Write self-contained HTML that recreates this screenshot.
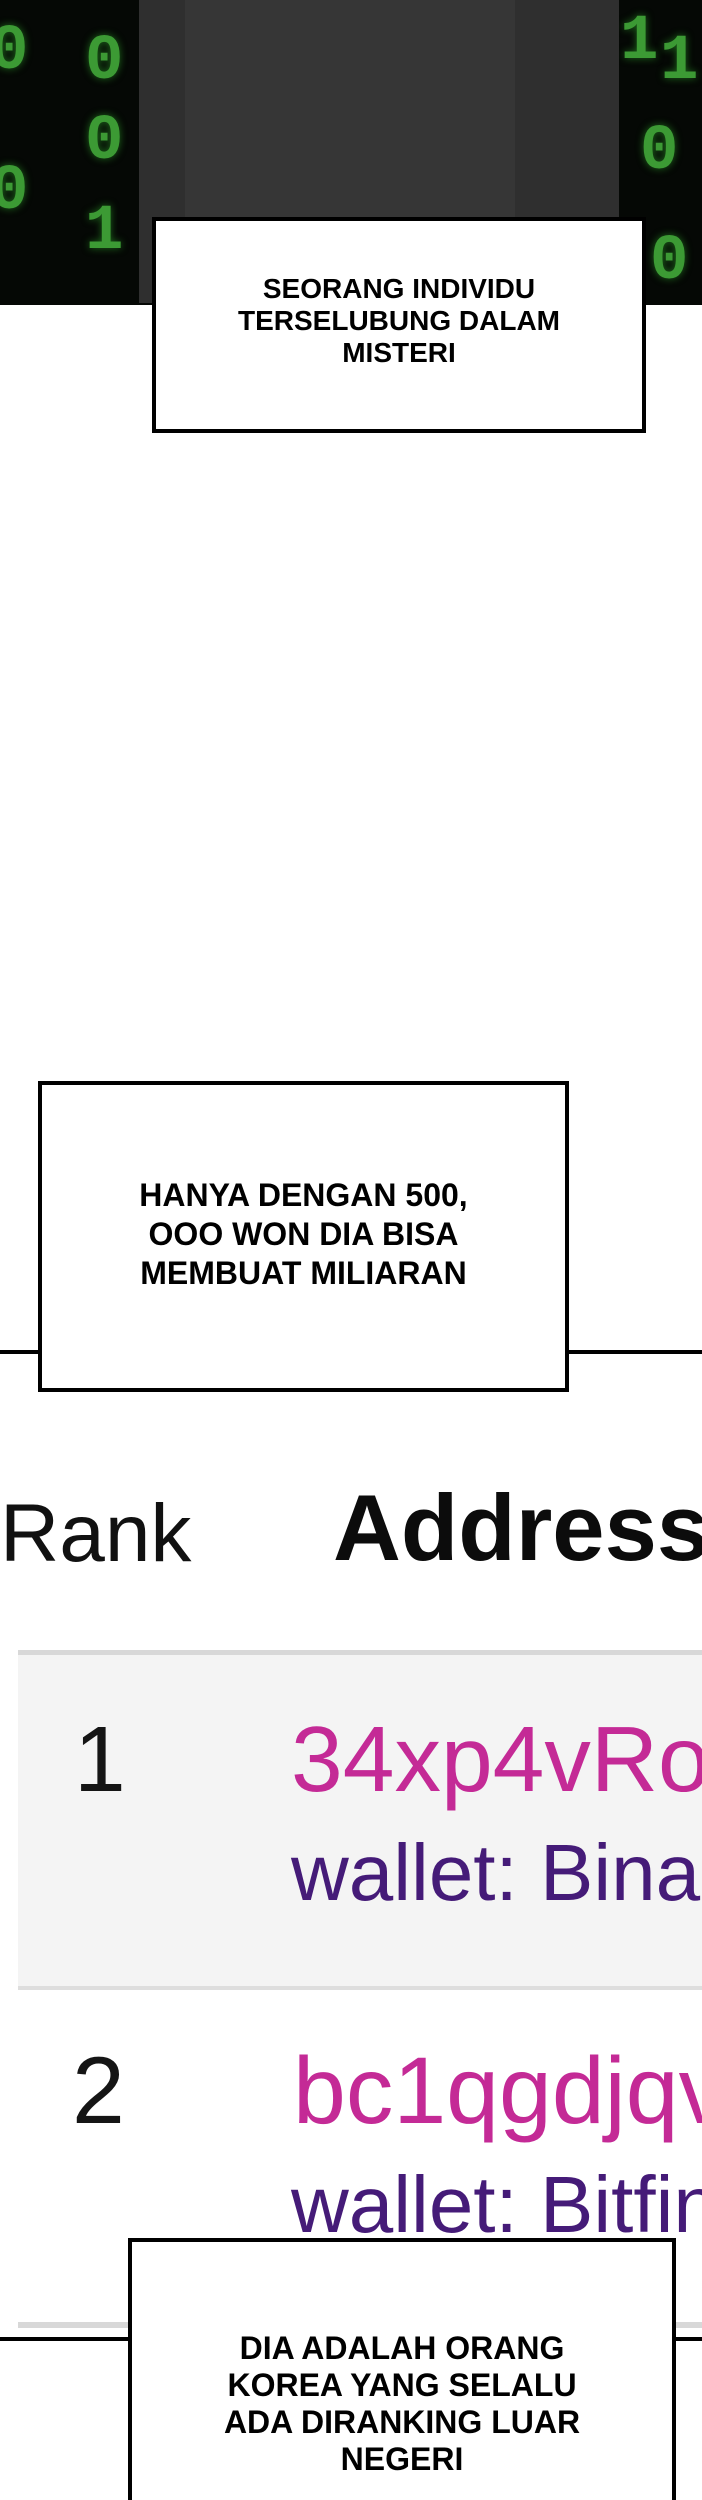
<!DOCTYPE html>
<html><head><meta charset="utf-8"><style>
*{margin:0;padding:0;box-sizing:border-box}
html,body{width:702px;height:2500px;overflow:hidden}
body{position:relative;background:#fff;font-family:"Liberation Sans",sans-serif}
#w{position:absolute;left:0;top:0;width:702px;height:2500px;overflow:hidden}
.a{position:absolute}
.box{position:absolute;background:#fff;border:4px solid #000}
.cap{position:absolute;text-align:center;font-family:"Liberation Sans",sans-serif;font-weight:bold;color:#000;white-space:nowrap}
.g{position:absolute;color:#3c9a34;font-family:"Liberation Mono",monospace;font-weight:bold;font-size:64px;line-height:1;text-shadow:0 0 8px #1f6a1c}
</style></head><body><div id="w">
<div class="a" style="left:0;top:0;width:702px;height:305px;background:#050805"></div>
<div class="g" style="left:-10px;top:20px">0</div>
<div class="g" style="left:-10px;top:160px">0</div>
<div class="g" style="left:85px;top:30px">0</div>
<div class="g" style="left:85px;top:110px">0</div>
<div class="g" style="left:85px;top:200px">1</div>
<div class="g" style="left:620px;top:10px">1</div>
<div class="g" style="left:660px;top:30px">1</div>
<div class="g" style="left:640px;top:120px">0</div>
<div class="g" style="left:650px;top:230px">0</div>
<div class="a" style="left:139px;top:0;width:480px;height:303px;background:#2f2f2f"></div>
<div class="a" style="left:185px;top:0;width:330px;height:270px;background:#363636"></div>

<div class="box" style="left:152px;top:217px;width:494px;height:216px"></div>
<div class="cap" style="left:152px;top:273px;width:494px;font-size:28px;line-height:32px">SEORANG INDIVIDU<br>TERSELUBUNG DALAM<br>MISTERI</div>

<div class="a" style="left:0;top:1350px;width:702px;height:4px;background:#000"></div>
<div class="box" style="left:38px;top:1081px;width:531px;height:311px"></div>
<div class="cap" style="left:38px;top:1176px;width:531px;font-size:32px;line-height:39px">HANYA DENGAN 500,<br>OOO WON DIA BISA<br>MEMBUAT MILIARAN</div>

<div class="a" style="left:0;top:1493px;font-size:82px;line-height:1;color:#111;white-space:nowrap">Rank</div>
<div class="a" style="left:333px;top:1481px;font-size:94px;font-weight:bold;line-height:1;color:#0c0c0c;white-space:nowrap">Address</div>

<div class="a" style="left:18px;top:1650px;width:684px;height:5px;background:#d8d8d8"></div>
<div class="a" style="left:18px;top:1655px;width:684px;height:332px;background:#f4f4f4"></div>
<div class="a" style="left:18px;top:1986px;width:684px;height:4px;background:#dedede"></div>
<div class="a" style="left:74px;top:1713px;font-size:93px;line-height:1;color:#151515">1</div>
<div class="a" style="left:291px;top:1713px;font-size:93px;line-height:1;color:#c42a96;white-space:nowrap">34xp4vRo</div>
<div class="a" style="left:291px;top:1833px;font-size:80px;line-height:1;color:#451b78;white-space:nowrap">wallet: Binance</div>

<div class="a" style="left:72px;top:2044px;font-size:95px;line-height:1;color:#151515">2</div>
<div class="a" style="left:293px;top:2044px;font-size:95px;line-height:1;color:#c42a96;white-space:nowrap">bc1qgdjqv</div>
<div class="a" style="left:291px;top:2165px;font-size:80px;line-height:1;color:#451b78;white-space:nowrap">wallet: Bitfinex</div>

<div class="a" style="left:18px;top:2322px;width:684px;height:6px;background:#d8d8d8"></div>
<div class="a" style="left:0;top:2337px;width:702px;height:4px;background:#000"></div>
<div class="box" style="left:128px;top:2238px;width:548px;height:280px"></div>
<div class="cap" style="left:128px;top:2330px;width:548px;font-size:32px;line-height:37px">DIA ADALAH ORANG<br>KOREA YANG SELALU<br>ADA DIRANKING LUAR<br>NEGERI</div>
</div></body></html>
